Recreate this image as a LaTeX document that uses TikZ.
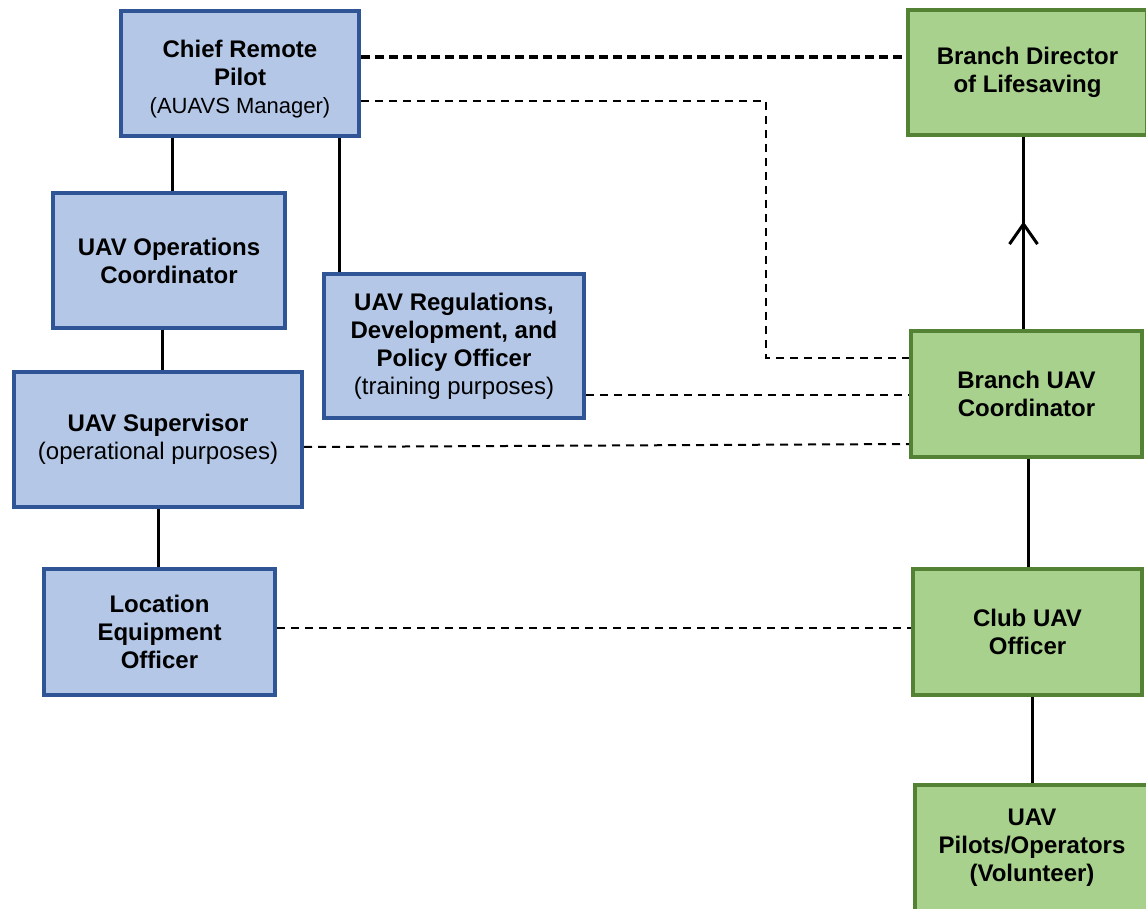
\documentclass[tikz,border=0pt]{standalone}
\usepackage{fontspec}
\setmainfont{Liberation Sans}
\usetikzlibrary{calc, positioning, arrows.meta}

\definecolor{boxblue}{HTML}{B4C7E7}
\definecolor{lineblue}{HTML}{2F5597}
\definecolor{boxgreen}{HTML}{A9D18E}
\definecolor{linegreen}{HTML}{548235}

\begin{document}
\begin{tikzpicture}[
  x=0.5pt,
  y=-0.5pt,
  >={Straight Barb[length=10pt,width=14pt]},
  node distance=50pt
]
\tikzstyle{bluebox}=[draw=lineblue, fill=boxblue, line width=2pt, align=center,
  font=\fontsize{12}{14}\selectfont\bfseries]
\tikzstyle{greenbox}=[draw=linegreen, fill=boxgreen, line width=2pt, align=center,
  font=\fontsize{12}{14}\selectfont\bfseries]
\tikzstyle{link}=[line width=1.5pt]
\tikzstyle{bigdash}=[line width=2pt, dash pattern=on 4.5pt off 2.5pt]
\tikzstyle{smalldash}=[line width=1pt, dash pattern=on 4pt off 3pt]

\useasboundingbox (0,0) rectangle (1146,909);

% ================= LEFT COLUMN =================
\node[bluebox, minimum width=119pt, minimum height=62.5pt] (chief) at (240,73.5)
  {\rule{0pt}{14pt}Chief Remote\\Pilot\\{\normalfont\fontsize{11}{14}\selectfont (AUAVS Manager)}};
\node[bluebox, minimum width=116pt, minimum height=67.5pt] (opsc) at (169,260.5)
  {UAV Operations\\Coordinator};
\node[bluebox, minimum width=130pt, minimum height=72pt] (regs) at (454,346)
  {UAV Regulations,\\Development, and\\Policy Officer\\{\normalfont (training purposes)}};
\node[bluebox, minimum width=144pt, minimum height=67.5pt] (superv) at (158,439.5)
  {UAV Supervisor\\{\normalfont (operational purposes)}};
\node[bluebox, minimum width=115.5pt, minimum height=63pt] (locn) at (159.5,632)
  {Location\\Equipment\\Officer};

% ================= RIGHT COLUMN =================
\node[greenbox, minimum width=119.5pt, minimum height=62.5pt] (director) at (1027.5,72.5)
  {Branch Director\\of Lifesaving};
\node[greenbox, minimum width=115.5pt, minimum height=63pt] (branch) [below=96pt of director, xshift=-0.5pt]
  {Branch UAV\\Coordinator};
\node[greenbox, minimum width=114.5pt, minimum height=63pt] (club) [below=54pt of branch, xshift=0.5pt]
  {Club UAV\\Officer};
\node[greenbox, minimum width=117pt, minimum height=63pt] (pilots) [below=41.5pt of club, xshift=2.25pt, yshift=-1.5pt]
  {UAV\\Pilots/Operators\\(Volunteer)};

% ===== Solid reporting lines =====
\draw[link] ([xshift=-34pt]chief.south) -- ([xshift=-34pt]chief.south |- opsc.north);
\draw[link] ([xshift=-11pt]chief.south east) -- ([xshift=-11pt]chief.south east |- regs.north);
\draw[link] ([xshift=-3.5pt]opsc.south) -- ([xshift=-3.5pt]opsc.south |- superv.north);
\draw[link] (superv.south) -- (superv.south |- locn.north);
\draw[link] ([xshift=-1.5pt]branch.north) -- ([xshift=-1.5pt]branch.north |- director.south);
\draw[link, ->] ([xshift=-1.5pt]branch.north) -- ($([xshift=-1.5pt]branch.north)!0.56!([xshift=-1.5pt]branch.north |- director.south)$);
\draw[link] ([xshift=1pt]branch.south) -- ([xshift=1pt]branch.south |- club.north);
\draw[link] ([xshift=2.5pt]club.south) -- ([xshift=2.5pt]club.south |- pilots.north);

% ===== Dashed links =====
\draw[bigdash] ([yshift=8.25pt]chief.east) -- ([yshift=8.25pt]chief.east -| director.west);
\draw[smalldash] ([yshift=-13.75pt]chief.east)
  -| ([xshift=-71.5pt, yshift=18pt]branch.west) -- ([yshift=18pt]branch.west);
\draw[smalldash] ([yshift=-24.5pt]regs.east) -- ([yshift=-24.5pt]regs.east -| branch.west);
\draw[smalldash] ([yshift=-3.75pt]superv.east) -- ([yshift=-25pt]branch.west);
\draw[smalldash] ([yshift=2pt]locn.east) -- ([yshift=2pt]locn.east -| club.west);
\end{tikzpicture}
\end{document}
